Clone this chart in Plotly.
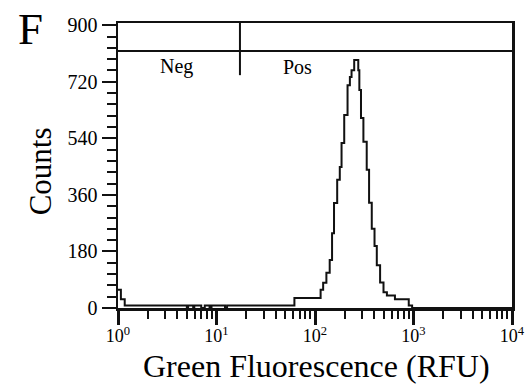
import math
import plotly.graph_objects as go

# ---- data ----
bin_edges_rfu = [1.0, 1.07, 1.17, 5.0, 5.15, 5.8, 5.95, 7.0, 7.6, 8.5, 8.9, 12.2, 12.8,
                 61.8, 114, 121, 130.5, 141, 149, 156, 168, 178.5, 186, 198, 214, 226,
                 235, 250, 275, 282, 293, 310, 335, 354, 377, 402, 424, 458, 496, 537,
                 648, 895, 968]
bin_counts = [58, 28, 8, 0, 8, 0, 8, 0, 8, 0, 8, 0, 8,
              32, 58, 80, 112, 153, 238, 334, 408, 449, 525, 614, 709, 735,
              757, 789, 757, 694, 605, 529, 440, 335, 252, 197, 136, 81, 50, 40,
              28, 8]
x_max_rfu = 10000

x_major_ticks = [1, 10, 100, 1000, 10000]
x_major_labels = ["10<sup>0</sup>", "10<sup>1</sup>", "10<sup>2</sup>",
                  "10<sup>3</sup>", "10<sup>4</sup>"]
x_minor_ticks = [m * d for d in [1, 10, 100, 1000] for m in range(2, 10)]

y_major_ticks = [0, 180, 360, 540, 720, 900]
y_minor_ticks = list(range(0, 901, 36))
y_top = 907

gate_x = 17.3          # Neg / Pos boundary (RFU)
gate_y = 818           # gate bar level (counts)
gate_marker_low = 741  # lower end of the boundary marker (counts)
neg_label_pos = (3.9, 768)
pos_label_pos = (67, 768)

FONT = "Liberation Serif"

xs = bin_edges_rfu + [x_max_rfu]
ys = bin_counts + [0, 0]

fig = go.Figure()
fig.add_trace(go.Scatter(
    x=xs, y=ys, mode="lines", line=dict(color="#111111", width=2, shape="hv"),
    hoverinfo="skip", showlegend=False))

# gate lines
fig.add_shape(type="line", xref="paper", yref="y", x0=0, x1=1, y0=gate_y, y1=gate_y,
              line=dict(color="#111111", width=2))
fig.add_shape(type="line", xref="x", yref="y", x0=gate_x, x1=gate_x,
              y0=gate_marker_low, y1=y_top, line=dict(color="#111111", width=2))

fig.add_annotation(x=math.log10(neg_label_pos[0]), y=neg_label_pos[1], text="Neg",
                   showarrow=False, font=dict(family=FONT, size=20, color="black"))
fig.add_annotation(x=math.log10(pos_label_pos[0]), y=pos_label_pos[1], text="Pos",
                   showarrow=False, font=dict(family=FONT, size=20, color="black"))

# panel letter and axis titles
fig.add_annotation(xref="paper", yref="paper", x=-0.258, y=0.98, xanchor="left",
                   yanchor="middle", text="F", showarrow=False,
                   font=dict(family=FONT, size=45, color="black"))
fig.add_annotation(xref="paper", yref="paper", x=0.504, y=-0.202, xanchor="center",
                   yanchor="middle", text="Green Fluorescence (RFU)", showarrow=False,
                   font=dict(family=FONT, size=32, color="black"))
fig.add_annotation(xref="paper", yref="paper", x=-0.1965, y=0.478, xanchor="center",
                   yanchor="middle", text="Counts", textangle=-90, showarrow=False,
                   font=dict(family=FONT, size=31, color="black"))

fig.update_xaxes(
    type="log", range=[0, 4], showgrid=False, zeroline=False, automargin=False,
    showline=True, linecolor="#111111", linewidth=2.5, mirror=True,
    tickmode="array", tickvals=x_major_ticks, ticktext=x_major_labels,
    ticks="outside", ticklen=14, tickwidth=3, tickcolor="#111111",
    ticklabeloverflow="allow", ticklabelstandoff=-4,
    tickfont=dict(family=FONT, size=18, color="black"),
    minor=dict(tickmode="array", tickvals=x_minor_ticks, ticks="outside",
               ticklen=8, tickwidth=2, tickcolor="#111111", showgrid=False),
)
fig.update_yaxes(
    range=[0, y_top], showgrid=False, zeroline=False, automargin=False,
    showline=True, linecolor="#111111", linewidth=2.5, mirror=True,
    tickmode="array", tickvals=y_major_ticks,
    ticks="outside", ticklen=14, tickwidth=2, tickcolor="#111111",
    tickfont=dict(family=FONT, size=20, color="black"),
    minor=dict(tickmode="array", tickvals=y_minor_ticks, ticks="outside",
               ticklen=9, tickwidth=2, tickcolor="#111111", showgrid=False),
)

fig.update_layout(
    width=529, height=391,
    margin=dict(l=118, r=17, t=23, b=83),
    paper_bgcolor="white", plot_bgcolor="white",
    showlegend=False,
)

# remove the default 8 px page margin so the figure fills the window exactly
fig.write_html("out.html",
               config={"displayModeBar": False, "staticPlot": True},
               post_script="document.body.style.margin='0';document.body.style.overflow='hidden';")
